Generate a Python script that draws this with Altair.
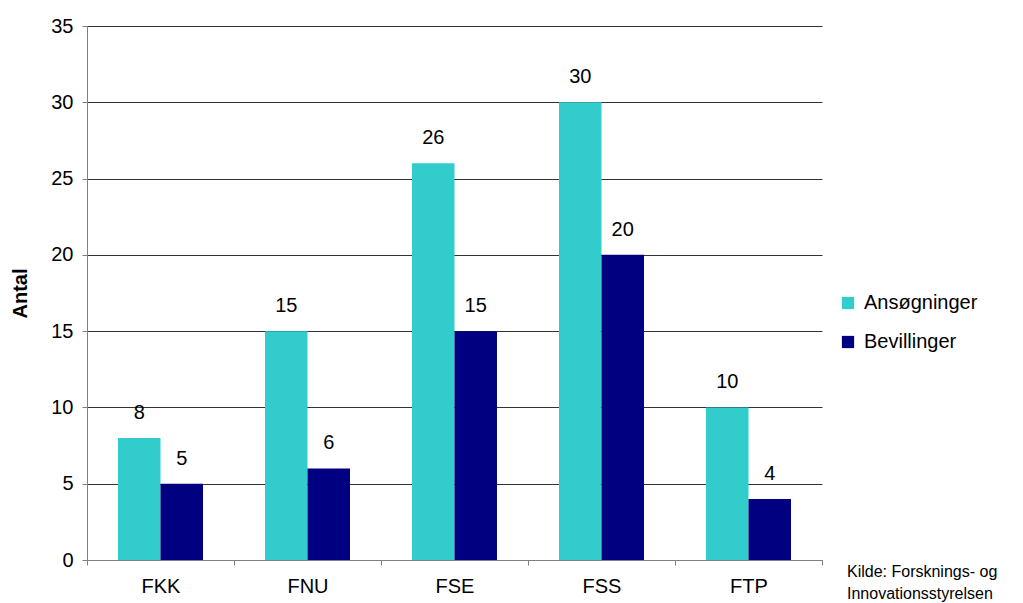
import altair as alt
import pandas as pd

categories = ["FKK", "FNU", "FSE", "FSS", "FTP"]
series = ["Ansøgninger", "Bevillinger"]
ansoegninger = [8, 15, 26, 30, 10]
bevillinger = [5, 6, 15, 20, 4]
colors = ["#33CCCC", "#000080"]
y_ticks = [0, 5, 10, 15, 20, 25, 30, 35]
source_lines = ["Kilde: Forsknings- og", "Innovationsstyrelsen"]

rows = []
for c, a, b in zip(categories, ansoegninger, bevillinger):
    rows.append({"cat": c, "series": series[0], "value": a})
    rows.append({"cat": c, "series": series[1], "value": b})
df = pd.DataFrame(rows)

W, H = 735, 534
FONT = "Liberation Sans"
FS = 20

x_enc = alt.X(
    "cat:N", sort=categories,
    scale=alt.Scale(paddingInner=0, paddingOuter=0),
    axis=alt.Axis(title=None, tickBand="extent", labelAngle=0,
                  labelFontSize=FS, labelColor="#000", labelPadding=11,
                  ticks=True, tickSize=5, tickColor="#808080",
                  domainColor="#808080", grid=False),
)
xoff_enc = alt.XOffset("series:N", sort=series,
                       scale=alt.Scale(paddingOuter=0.73, paddingInner=0))
y_enc = alt.Y(
    "value:Q", scale=alt.Scale(domain=[0, 35], nice=False),
    axis=alt.Axis(title="Antal", values=y_ticks, labelFontSize=FS, labelColor="#000",
                  labelPadding=9, tickSize=5, tickColor="#808080",
                  domainColor="#808080", grid=True, gridColor="#333333",
                  titleFontSize=FS, titleFontWeight="bold", titleColor="#000",
                  titlePadding=20),
)

bars = alt.Chart(df).mark_bar(size=42.5).encode(
    x=x_enc, xOffset=xoff_enc, y=y_enc,
    color=alt.Color("series:N", sort=series,
                    scale=alt.Scale(domain=series, range=colors),
                    legend=alt.Legend(title=None, orient="none", legendX=751, legendY=267,
                                      symbolType="square", symbolSize=150,
                                      symbolStrokeWidth=0, labelFontSize=FS,
                                      labelColor="#000", rowPadding=19,
                                      labelOffset=6)),
)

labels = alt.Chart(df).mark_text(fontSize=FS, baseline="alphabetic", dy=-19,
                                 color="#000").encode(
    x=alt.X("cat:N", sort=categories), xOffset=alt.XOffset("series:N", sort=series),
    y="value:Q", text="value:Q",
)

src = pd.DataFrame({"line": ["\n".join(source_lines)]})
source = alt.Chart(src).mark_text(fontSize=16, align="left", baseline="middle",
                                  lineBreak="\n", lineHeight=22,
                                  color="#000").encode(
    x=alt.value(760), y=alt.value(546), text="line:N",
)

chart = alt.layer(bars, labels, source).properties(
    width=W, height=H, padding={"left": 2, "top": 8, "right": 5, "bottom": 5}
).configure(font=FONT).configure_view(stroke=None)

chart.save("out.html", embed_options={"renderer": "svg", "actions": False})
